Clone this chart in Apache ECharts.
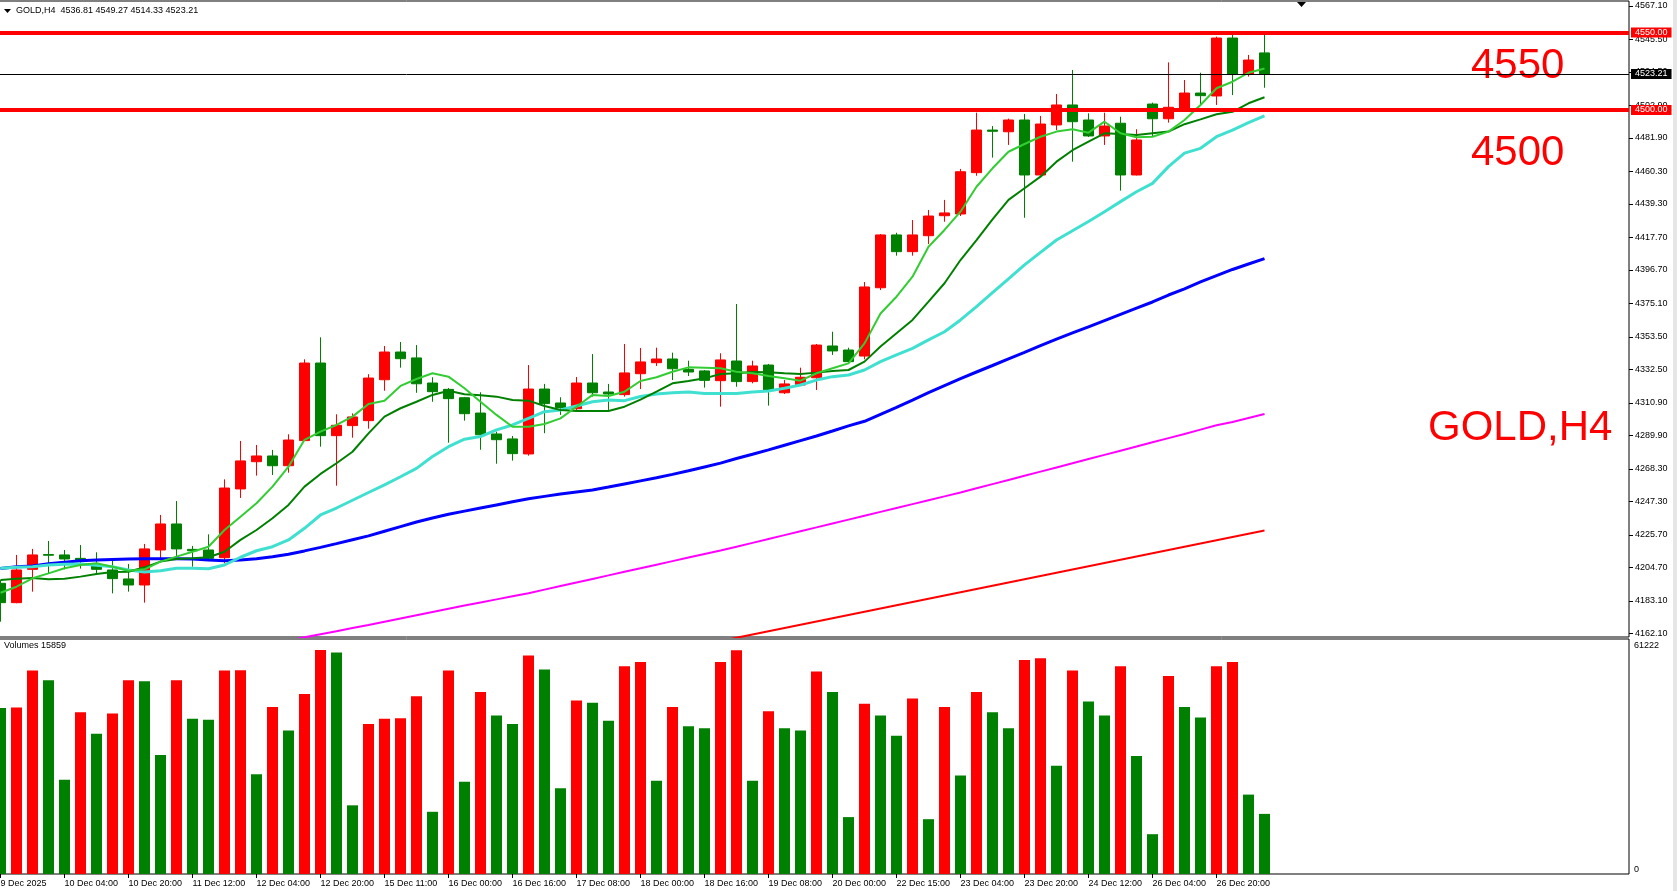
<!DOCTYPE html>
<html><head><meta charset="utf-8">
<script src="https://cdn.jsdelivr.net/npm/echarts@6/dist/echarts.min.js"></script>
<style>html,body{margin:0;padding:0;background:#fff;overflow:hidden}#c{width:1677px;height:891px}</style>
</head><body><div id="c"></div>
<script>
const categories = ['9 Dec 12:00','9 Dec 16:00','9 Dec 20:00','10 Dec 00:00','10 Dec 04:00','10 Dec 08:00','10 Dec 12:00','10 Dec 16:00','10 Dec 20:00','11 Dec 00:00',
'11 Dec 04:00','11 Dec 08:00','11 Dec 12:00','11 Dec 16:00','11 Dec 20:00','12 Dec 00:00','12 Dec 04:00','12 Dec 08:00','12 Dec 12:00','12 Dec 16:00',
'12 Dec 20:00','15 Dec 00:00','15 Dec 03:00','15 Dec 07:00','15 Dec 11:00','15 Dec 12:00','15 Dec 16:00','15 Dec 20:00','16 Dec 00:00','16 Dec 04:00',
'16 Dec 08:00','16 Dec 12:00','16 Dec 16:00','16 Dec 20:00','17 Dec 00:00','17 Dec 04:00','17 Dec 08:00','17 Dec 12:00','17 Dec 16:00','17 Dec 20:00',
'18 Dec 00:00','18 Dec 04:00','18 Dec 08:00','18 Dec 12:00','18 Dec 16:00','18 Dec 20:00','19 Dec 00:00','19 Dec 04:00','19 Dec 08:00','19 Dec 12:00',
'19 Dec 16:00','19 Dec 20:00','20 Dec 00:00','22 Dec 03:00','22 Dec 07:00','22 Dec 11:00','22 Dec 15:00','22 Dec 19:00','22 Dec 23:00','23 Dec 00:00',
'23 Dec 04:00','23 Dec 08:00','23 Dec 12:00','23 Dec 16:00','23 Dec 20:00','24 Dec 00:00','24 Dec 04:00','24 Dec 08:00','24 Dec 12:00','24 Dec 16:00',
'24 Dec 20:00','26 Dec 00:00','26 Dec 04:00','26 Dec 08:00','26 Dec 12:00','26 Dec 16:00','26 Dec 20:00','27 Dec 00:00','27 Dec 04:00','27 Dec 08:00'];

const xTickLabels = ['9 Dec 2025','10 Dec 04:00','10 Dec 20:00','11 Dec 12:00','12 Dec 04:00','12 Dec 20:00','15 Dec 11:00','16 Dec 00:00','16 Dec 16:00','17 Dec 08:00',
'18 Dec 00:00','18 Dec 16:00','19 Dec 08:00','20 Dec 00:00','22 Dec 15:00','23 Dec 04:00','23 Dec 20:00','24 Dec 12:00','26 Dec 04:00','26 Dec 20:00'];

const openP = [4194.4,4181.9,4203.4,4213.0,4212.7,4210.5,4206.2,4203.0,4197.2,4193.3,
4215.9,4232.7,4216.3,4215.9,4210.9,4255.3,4272.9,4276.6,4270.3,4286.5,
4336.6,4289.7,4296.2,4299.4,4325.8,4343.7,4339.9,4323.7,4319.6,4314.2,
4304.3,4290.8,4287.6,4277.9,4319.8,4310.8,4307.1,4323.7,4317.9,4316.2,
4329.7,4336.8,4339.2,4332.5,4331.5,4325.2,4337.9,4324.6,4335.3,4317.4,
4322.4,4327.1,4347.6,4345.0,4341.1,4385.2,4419.3,4408.5,4418.8,4431.7,
4432.8,4459.5,4487.0,4485.9,4493.5,4458.0,4490.3,4503.2,4493.5,4483.2,
4491.4,4458.0,4503.8,4494.3,4501.0,4510.9,4509.0,4546.4,4523.2,4536.81];
const closeP = [4181.9,4203.0,4212.7,4212.5,4210.1,4208.9,4203.4,4197.4,4193.3,4216.6,
4232.7,4216.6,4215.4,4210.5,4255.9,4273.4,4276.6,4270.3,4286.9,4336.6,
4289.7,4296.4,4301.8,4326.9,4343.7,4339.4,4323.2,4318.1,4313.6,4303.9,
4290.3,4287.1,4278.1,4319.8,4310.4,4307.8,4323.7,4317.4,4316.6,4330.2,
4337.3,4339.2,4332.9,4330.8,4325.4,4338.6,4324.6,4334.7,4319.2,4323.1,
4327.4,4348.2,4344.4,4337.5,4385.7,4419.3,4408.5,4419.3,4431.5,4433.5,
4460.1,4487.0,4486.2,4493.5,4458.0,4490.9,4503.2,4492.4,4483.2,4489.6,
4458.0,4480.6,4494.3,4501.7,4510.9,4509.2,4546.4,4523.2,4532.2,4523.21];
const lowP = [4169.6,4181.5,4189.0,4200.8,4203.4,4203.9,4201.0,4187.9,4189.0,4181.9,
4209.4,4211.2,4205.1,4209.4,4207.3,4249.5,4263.9,4264.3,4265.8,4286.3,
4282.6,4257.4,4288.4,4294.2,4318.7,4333.6,4317.4,4311.6,4285.2,4299.4,
4280.6,4271.6,4273.6,4276.8,4291.3,4303.1,4306.3,4314.9,4306.3,4314.9,
4319.8,4334.7,4325.6,4328.2,4320.7,4308.4,4321.3,4323.5,4309.1,4316.6,
4322.1,4319.2,4341.8,4336.8,4339.0,4383.7,4405.9,4405.9,4413.4,4427.8,
4431.5,4457.5,4469.2,4477.4,4430.4,4457.7,4487.0,4466.6,4482.5,4477.4,
4447.9,4457.7,4482.7,4491.8,4500.8,4502.6,4503.2,4509.6,4521.5,4514.33];
const highP = [4196.5,4212.7,4216.6,4221.7,4215.9,4219.1,4214.4,4209.4,4206.9,4219.8,
4238.5,4247.5,4218.5,4226.0,4261.5,4286.3,4283.7,4280.5,4290.6,4339.0,
4353.2,4303.5,4304.1,4329.4,4347.6,4350.2,4348.2,4327.4,4320.5,4314.7,
4317.7,4292.3,4289.5,4335.3,4323.1,4314.5,4327.6,4342.4,4323.1,4348.9,
4346.3,4346.5,4343.3,4338.1,4332.1,4342.9,4374.7,4338.1,4336.0,4325.6,
4333.6,4348.9,4356.8,4346.5,4388.9,4419.9,4420.7,4428.9,4435.4,4441.9,
4461.9,4498.2,4489.6,4494.4,4497.4,4496.1,4510.3,4525.8,4497.8,4498.2,
4495.6,4487.5,4504.7,4530.7,4519.3,4524.0,4547.3,4548.4,4535.5,4549.27];

const volumes = [45370,45500,55590,52970,25780,44200,38350,43900,52970,52670,
32500,52970,42450,42150,55590,55700,27250,45670,39220,49170,
61222,60570,18770,40970,42450,42550,48590,17000,55590,25200,
49740,43320,40970,59690,55890,23450,47420,46820,41870,56770,
57940,25500,45670,40400,39820,57940,61140,25500,44490,39820,
39220,55320,49740,15550,46540,43320,37770,47990,14980,45670,
26950,49740,44200,39820,58520,59000,29570,55590,47120,43320,
56770,32220,10880,54140,45670,42750,56770,57940,21700,16430];

const maFast = [4188.3,4192.2,4197.6,4200.8,4204.1,4206.2,4207.3,4205.1,4202.5,4203.4,
4208.4,4211.6,4214.8,4218.0,4228.8,4237.4,4246.1,4256.8,4269.7,4287.0,
4292.3,4296.6,4302.0,4310.2,4312.3,4321.8,4326.3,4330.0,4327.8,4320.3,
4311.6,4303.1,4295.5,4295.5,4297.2,4300.9,4308.4,4316.0,4315.3,4318.1,
4325.0,4327.4,4331.0,4333.8,4333.6,4333.2,4331.0,4330.0,4328.2,4326.7,
4325.2,4330.0,4333.2,4336.4,4349.3,4368.6,4379.4,4392.3,4411.7,4422.5,
4434.3,4450.4,4462.3,4473.0,4478.0,4482.7,4486.0,4487.5,4485.3,4492.4,
4484.9,4482.3,4482.7,4486.0,4493.5,4503.2,4514.0,4518.2,4524.0,4526.8];
const maMid = [4196.5,4197.4,4197.8,4197.0,4197.4,4198.7,4200.4,4201.7,4201.9,4204.7,
4208.4,4210.1,4210.5,4211.2,4214.8,4222.4,4228.8,4236.4,4245.0,4256.8,
4265.0,4271.9,4279.3,4291.2,4302.0,4307.4,4311.6,4316.0,4318.7,4316.4,
4315.8,4314.9,4312.7,4312.3,4308.9,4306.3,4305.6,4305.6,4305.6,4308.4,
4313.0,4318.1,4323.5,4325.0,4326.7,4329.5,4330.0,4330.8,4330.6,4330.0,
4329.5,4330.4,4331.5,4332.1,4337.5,4347.2,4355.8,4364.4,4376.2,4388.1,
4403.1,4416.0,4429.4,4441.9,4449.4,4456.9,4466.6,4474.0,4479.5,4484.9,
4484.5,4483.8,4484.9,4486.0,4490.8,4493.9,4497.2,4498.8,4504.3,4508.2];
const maSlow = [4204.1,4204.7,4205.1,4206.2,4206.7,4206.9,4206.0,4205.1,4203.0,4201.7,
4202.5,4204.1,4204.1,4203.8,4206.2,4211.2,4215.4,4218.0,4222.4,4229.9,
4238.5,4243.0,4248.0,4253.0,4257.9,4263.2,4268.6,4276.2,4282.6,4287.4,
4289.1,4293.4,4296.6,4300.9,4305.2,4306.3,4308.9,4311.6,4312.7,4312.3,
4315.0,4316.6,4317.4,4317.9,4317.0,4317.0,4317.0,4317.9,4318.5,4320.3,
4322.4,4325.6,4327.8,4328.9,4332.1,4337.5,4341.8,4346.1,4351.5,4356.8,
4364.4,4373.0,4382.0,4391.0,4400.0,4408.0,4416.0,4422.0,4428.0,4434.3,
4440.8,4447.2,4452.6,4463.4,4472.1,4475.2,4482.7,4487.0,4491.8,4496.1];
const maBlue = [4204.0,4205.0,4205.6,4207.0,4208.0,4209.0,4209.4,4209.7,4210.0,4210.2,
4210.3,4210.2,4210.1,4209.4,4209.0,4209.5,4210.3,4211.5,4213.2,4215.3,
4217.6,4220.0,4222.5,4225.0,4228.0,4231.0,4234.0,4236.5,4239.0,4241.0,
4243.0,4245.0,4247.0,4249.0,4250.5,4252.0,4253.3,4254.6,4256.5,4258.5,
4260.5,4262.5,4264.7,4267.0,4269.5,4272.0,4275.0,4277.7,4280.5,4283.5,
4286.5,4289.5,4292.7,4296.0,4299.0,4303.5,4308.0,4312.7,4317.5,4322.0,
4326.5,4330.8,4335.0,4339.3,4343.5,4347.8,4352.0,4356.0,4360.0,4364.0,
4368.0,4372.0,4376.0,4380.5,4384.5,4389.0,4393.0,4397.0,4400.5,4404.0];
const maMagenta = ['-','-','-','-','-','-','-','-','-','-',
'-','-','-','-',4149.5,4151.5,4153.5,4155.5,4157.5,4159.5,
4161.5,4163.5,4165.5,4167.5,4169.6,4171.7,4173.8,4175.9,4178.0,4180.0,
4182.0,4184.0,4186.0,4188.0,4190.3,4192.6,4194.9,4197.2,4199.5,4201.8,
4204.1,4206.4,4208.7,4211.0,4213.3,4215.6,4218.0,4220.5,4223.0,4225.5,
4228.0,4230.5,4233.0,4235.5,4238.0,4240.5,4243.0,4245.5,4248.0,4250.5,
4253.0,4255.7,4258.4,4261.1,4263.8,4266.5,4269.2,4271.9,4274.6,4277.3,
4280.0,4282.7,4285.4,4288.1,4290.8,4293.6,4296.4,4298.5,4301.1,4303.7];
const maRed = ['-','-','-','-','-','-','-','-','-','-',
'-','-','-','-','-','-','-','-','-','-',
'-','-','-','-','-','-','-','-','-','-',
'-','-','-','-','-','-','-','-','-','-',
4146.6,4148.7,4150.8,4152.9,4155.0,4157.1,4159.2,4161.3,4163.4,4165.5,
4167.6,4169.7,4171.8,4173.9,4176.0,4178.1,4180.2,4182.3,4184.4,4186.5,
4188.6,4190.7,4192.8,4194.9,4197.0,4199.1,4201.2,4203.3,4205.4,4207.5,
4209.6,4211.7,4213.8,4215.9,4218.0,4220.1,4222.2,4224.3,4226.4,4228.5];

const priceTicks = [4567.10,4545.50,4524.50,4502.90,4481.90,4460.30,4439.30,4417.70,4396.70,4375.10,
4353.50,4332.50,4310.90,4289.90,4268.30,4247.30,4225.70,4204.70,4183.10,4162.10];
const levels = [4550, 4500];
const bidPrice = 4523.21;
const symbolName = 'GOLD,H4';
const volumeLast = 15859;
const volumeMax = 61222;

// ---- layout ----
const FONT = 'Liberation Sans, Arial, sans-serif';
const RED = '#FF0000', GREEN = '#008000';
const PRICE_MIN = 4159.72, PRICE_MAX = 4570.32;
const VOL_AXIS_MAX = 64228;
const SHIFT_BARS = 22;
const cats = categories.concat(Array.from({length: SHIFT_BARS}, (_, k) => '+' + (k + 1)));
const nBars = categories.length;
const isTick = (idx) => idx % 4 === 0 && idx < nBars;

const candleData = openP.map((o, i) => [o, closeP[i], lowP[i], highP[i]]);
const volData = volumes.map((v, i) => ({
  value: v,
  itemStyle: { color: (i > 0 && v > volumes[i - 1]) ? RED : GREEN }
}));

const chart = echarts.init(document.getElementById('c'), null, { renderer: 'canvas' });
const maLine = (data, color, width) => ({
  type: 'line', xAxisIndex: 0, yAxisIndex: 0, data: data, showSymbol: false, symbol: 'none',
  lineStyle: { color: color, width: width }, z: 4, silent: true, animation: false, connectNulls: false
});
const boxLabel = (bg) => ({
  show: true, position: 'end', distance: 2, formatter: (p) => Number(p.value).toFixed(2),
  color: '#fff', backgroundColor: bg, padding: [1, 4, 0, 4], fontSize: 9, lineHeight: 9, fontFamily: FONT
});
const gridBase = { outerBoundsMode: 'none', containLabel: false };

chart.setOption({
  animation: false,
  backgroundColor: '#ffffff',
  grid: [
    Object.assign({ left: -7.5, top: 1, width: 1632, height: 636 }, gridBase),
    Object.assign({ left: -1, top: 1, width: 1630, height: 636, show: true, borderColor: '#000', borderWidth: 1, backgroundColor: 'transparent' }, gridBase),
    Object.assign({ left: -7.5, top: 639, width: 1632, height: 235 }, gridBase),
    Object.assign({ left: -1, top: 639, width: 1630, height: 235, show: true, borderColor: '#000', borderWidth: 1, backgroundColor: 'transparent' }, gridBase)
  ],
  xAxis: [
    { type: 'category', gridIndex: 0, data: cats, show: false, boundaryGap: true },
    { type: 'value', gridIndex: 1, min: 0, max: 1, show: false },
    { type: 'category', gridIndex: 2, data: cats, boundaryGap: true,
      axisLine: { show: false, onZero: false },
      axisTick: { show: true, alignWithLabel: true, interval: (i) => isTick(i), length: 4, lineStyle: { color: '#000' } },
      axisLabel: { interval: (i) => isTick(i), formatter: (v, i) => xTickLabels[i / 4], align: 'left', margin: 5,
        color: '#000', fontSize: 9, fontFamily: FONT },
      splitLine: { show: false } },
    { type: 'value', gridIndex: 3, min: 0, max: 1, show: false }
  ],
  yAxis: [
    { type: 'value', gridIndex: 0, min: PRICE_MIN, max: PRICE_MAX, show: false },
    { type: 'value', gridIndex: 1, position: 'right', min: PRICE_MIN, max: PRICE_MAX,
      splitLine: { show: false }, axisLine: { show: false, onZero: false },
      axisTick: { show: true, customValues: priceTicks, length: 4, lineStyle: { color: '#000' } },
      axisLabel: { customValues: priceTicks, formatter: (v) => v.toFixed(2), margin: 6, color: '#000', fontSize: 9, fontFamily: FONT } },
    { type: 'value', gridIndex: 2, min: 0, max: VOL_AXIS_MAX, show: false },
    { type: 'value', gridIndex: 3, position: 'right', min: 0, max: VOL_AXIS_MAX,
      splitLine: { show: false }, axisLine: { show: false, onZero: false }, axisTick: { show: false },
      axisLabel: { customValues: [0, volumeMax], formatter: (v) => String(v), margin: 5, verticalAlign: 'bottom',
        color: '#000', fontSize: 9, fontFamily: FONT } }
  ],
  series: [
    { type: 'candlestick', xAxisIndex: 0, yAxisIndex: 0, data: candleData, barWidth: 10, z: 2,
      itemStyle: { color: RED, color0: GREEN, borderColor: RED, borderColor0: GREEN, borderWidth: 1 } },
    maLine(maRed, '#FF0000', 2),
    maLine(maMagenta, '#FF00FF', 2),
    maLine(maBlue, '#0000FF', 3),
    maLine(maSlow, '#40E0D0', 3),
    maLine(maMid, '#008000', 2),
    maLine(maFast, '#32CD32', 2),
    { type: 'bar', xAxisIndex: 2, yAxisIndex: 2, data: volData, barWidth: 11, silent: true },
    { type: 'line', xAxisIndex: 1, yAxisIndex: 1, data: [], silent: true, z: 6,
      markLine: { symbol: ['none', 'none'], silent: true, animation: false,
        data: [
          ...levels.map((lv) => ({ yAxis: lv, lineStyle: { color: RED, width: 4, type: 'solid' }, label: boxLabel(RED) })),
          { yAxis: bidPrice, lineStyle: { color: '#000', width: 1, type: 'solid' }, label: boxLabel('#000') }
        ] } }
  ],
  graphic: [
    { type: 'rect', shape: { x: 1673, y: 0, width: 4, height: 891 }, style: { fill: '#e6e6e6' }, silent: true },
    { type: 'polygon', shape: { points: [[4, 9], [11, 9], [7.5, 13]] }, style: { fill: '#000' }, silent: true },
    { type: 'text', x: 16, y: 11, style: { text: symbolName + '  ' + [openP[nBars-1], highP[nBars-1], lowP[nBars-1], closeP[nBars-1]].map(v => v.toFixed(2)).join(' '),
      fill: '#000', font: '9px ' + FONT, verticalAlign: 'middle' }, silent: true },
    { type: 'polygon', shape: { points: [[1297, 2], [1306, 2], [1301.5, 7]] }, style: { fill: '#000' }, silent: true },
    { type: 'text', x: 4, y: 646, style: { text: 'Volumes ' + volumeLast, fill: '#000', font: '9px ' + FONT, verticalAlign: 'middle' }, silent: true },
    { type: 'text', x: 1471, y: 66, style: { text: String(levels[0]), fill: RED, font: '42px ' + FONT, verticalAlign: 'middle' }, silent: true },
    { type: 'text', x: 1471, y: 153, style: { text: String(levels[1]), fill: RED, font: '42px ' + FONT, verticalAlign: 'middle' }, silent: true },
    { type: 'text', x: 1428, y: 428, style: { text: symbolName, fill: RED, font: '42px ' + FONT, verticalAlign: 'middle' }, silent: true }
  ]
});
</script></body></html>
